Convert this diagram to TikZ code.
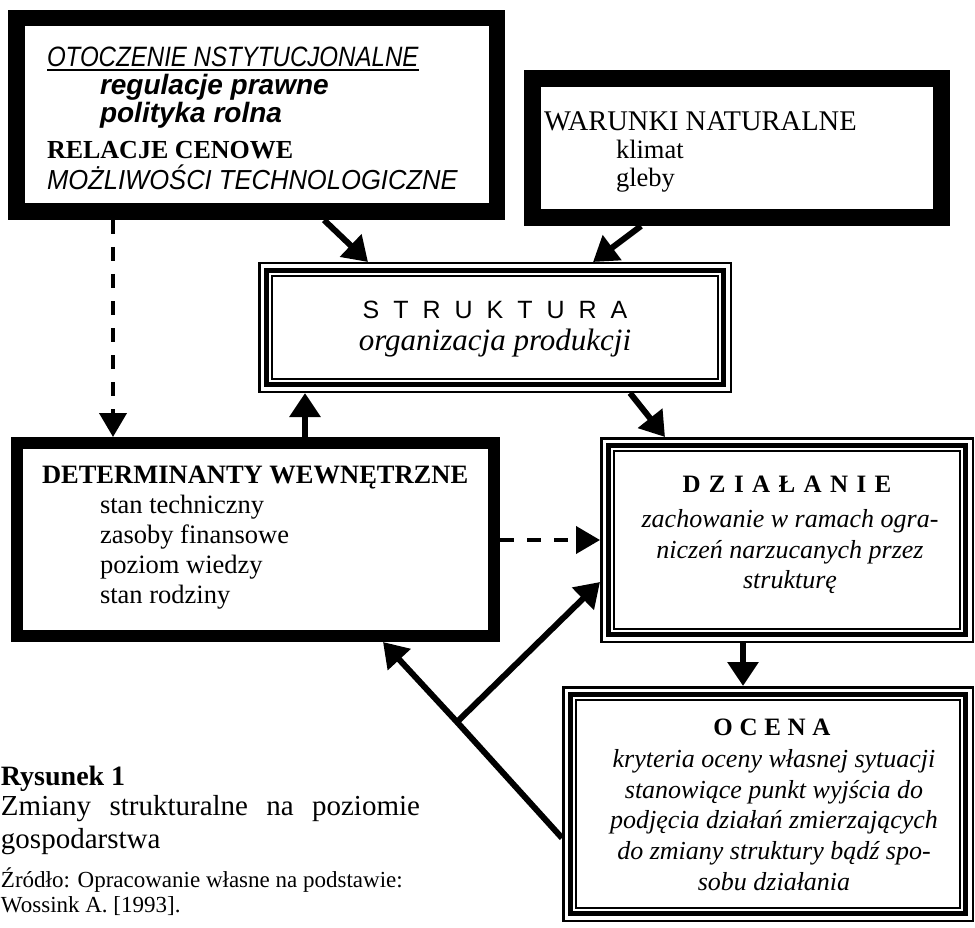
\documentclass[tikz,border=0pt]{standalone}
\usepackage{fontspec}
\setmainfont{Liberation Serif}
\setsansfont{Liberation Sans}
\usetikzlibrary{arrows.meta,calc}
\newdimen\lsp
\newcommand\gp{\kern\lsp}
\newcommand\fs[1]{\fontsize{#1}{#1}\selectfont}
\newcommand\thickframe[2]{\draw[line width=#2pt] ($(#1.north west)+(#2/2,#2/2)$) rectangle ($(#1.south east)-(#2/2,#2/2)$);}
\newcommand\tripleframe[1]{%
  \draw[line width=2.5pt] ($(#1.north west)+(1.25,1.25)$) rectangle ($(#1.south east)-(1.25,1.25)$);
  \draw[line width=5pt] ($(#1.north west)+(8.5,8.5)$) rectangle ($(#1.south east)-(8.5,8.5)$);
  \draw[line width=2pt] ($(#1.north west)+(14,14)$) rectangle ($(#1.south east)-(14,14)$);}
\begin{document}
\begin{tikzpicture}[x=1pt,y=-1pt,
  area/.style={inner sep=0pt,outer sep=0pt,anchor=north west},
  txt/.style={inner sep=0pt,outer sep=0pt,anchor=base west},
  ctxt/.style={inner sep=0pt,outer sep=0pt,anchor=base},
  solidarrow/.style={line width=6pt,-{Triangle[length=24pt,width=30pt]}},
  dasharrow/.style={line width=4pt,dash pattern=on 14pt off 13pt,-{Triangle[length=24pt,width=27pt]}}]
\fill[white] (0,0) rectangle (975,928);
\useasboundingbox (0,0) rectangle (975,928);

% box areas
\node[area,minimum width=497pt,minimum height=210pt] (env) at (8,10) {};
\node[area,minimum width=426pt,minimum height=156pt] (nat) at (524,70) {};
\node[area,minimum width=474pt,minimum height=131pt] (str) at (258,262) {};
\node[area,minimum width=489pt,minimum height=205pt] (det) at (11,437) {};
\node[area,minimum width=374pt,minimum height=206pt] (dzi) at (600,437) {};
\node[area,minimum width=412pt,minimum height=236pt] (oce) at (562,686) {};

\thickframe{env}{16.5}
\thickframe{nat}{17}
\thickframe{det}{12}
\tripleframe{str}
\tripleframe{dzi}
\tripleframe{oce}

% box 1
\node[txt,font=\sffamily\itshape\fs{28}\addfontfeatures{FakeStretch=0.86}] (t1) at (47,67) {OTOCZENIE NSTYTUCJONALNE};
\draw[line width=1.8pt] ($(t1.base west)+(0,3)$) -- ($(t1.base east)+(0,3)$);
\node[txt,font=\sffamily\bfseries\itshape\fs{28}] (t2) at (100,95) {regulacje prawne};
\node[txt,font=\sffamily\bfseries\itshape\fs{28}] (t3) at (100,123) {polityka rolna};
\node[txt,font=\bfseries\fs{26}] (t4) at (47,159) {RELACJE CENOWE};
\node[txt,font=\sffamily\itshape\fs{27.5}\addfontfeatures{FakeStretch=0.93}] (t5) at (47,190) {MOŻLIWOŚCI TECHNOLOGICZNE};

% box 2
\node[txt,font=\fs{28.5}] (n1) at (544,131) {WARUNKI NATURALNE};
\node[txt,font=\fs{26.5}] (n2) at (616,159) {klimat};
\node[txt,font=\fs{26.5}] (n3) at (616,187) {gleby};

% struktura
\node[ctxt,font=\sffamily\fs{25}] (s1) at (495,318) {\lsp=14pt S\gp T\gp R\gp U\gp K\gp T\gp U\gp R\gp A};
\node[ctxt,font=\itshape\fs{31}] (s2) at (495,350) {organizacja produkcji};

% determinanty
\node[txt,font=\bfseries\fs{26.5}] (d0) at (42,483) {DETERMINANTY WEWNĘTRZNE};
\node[txt,font=\fs{26.5}] (d1) at (100,513) {stan techniczny};
\node[txt,font=\fs{26.5}] (d2) at (100,543) {zasoby finansowe};
\node[txt,font=\fs{26.5}] (d3) at (100,573) {poziom wiedzy};
\node[txt,font=\fs{26.5}] (d4) at (100,603) {stan rodziny};

% dzialanie
\node[ctxt,font=\bfseries\fs{25}] (a0) at (787,492) {\lsp=8.4pt D\gp Z\gp I\gp A\gp Ł\gp A\gp N\gp I\gp E};
\node[ctxt,font=\itshape\fs{26}] (a1) at (790,527) {zachowanie w ramach ogra-};
\node[ctxt,font=\itshape\fs{26}] (a2) at (790,558) {niczeń narzucanych przez};
\node[ctxt,font=\itshape\fs{26}] (a3) at (790,588) {strukturę};

% ocena
\node[ctxt,font=\bfseries\fs{25}] (o0) at (772,735) {\lsp=6.7pt O\gp C\gp E\gp N\gp A};
\node[ctxt,font=\itshape\fs{26}] (o1) at (774,767) {kryteria oceny własnej sytuacji};
\node[ctxt,font=\itshape\fs{26}] (o2) at (774,798) {stanowiące punkt wyjścia do};
\node[ctxt,font=\itshape\fs{26}] (o3) at (774,828) {podjęcia działań zmierzających};
\node[ctxt,font=\itshape\fs{26}] (o4) at (774,859) {do zmiany struktury bądź spo-};
\node[ctxt,font=\itshape\fs{26}] (o5) at (774,890) {sobu działania};

% caption
\node[txt,font=\bfseries\fs{28}] (c1) at (1,785) {Rysunek 1};
\node[txt,font=\fs{29}] (c2) at (1,815) {\makebox[419pt][s]{Zmiany strukturalne na poziomie}};
\node[txt,font=\fs{29}] (c3) at (1,848) {gospodarstwa};
\node[txt,font=\fs{23}] (c4) at (1,887) {Źródło: Opracowanie własne na podstawie:};
\node[txt,font=\fs{23}] (c5) at (1,912) {Wossink A. [1993].};

% connectors
\draw[solidarrow] (324,0 |- env.south) -- (368,0 |- str.north);
\draw[solidarrow] (641,0 |- nat.south) -- (593,0 |- str.north);
\draw[dasharrow] (113,0 |- env.south) -- (113,0 |- det.north);
\draw[solidarrow] (305,0 |- det.north) -- (305,0 |- str.south);
\draw[solidarrow] (630,0 |- str.south) -- (665,0 |- dzi.north);
\draw[dasharrow] (det.east |- 0,540) -- (dzi.west |- 0,540);
\draw[solidarrow] (743,0 |- dzi.south) -- (743,0 |- oce.north);
\coordinate (split) at (457,722);
\draw[solidarrow] (oce.west |- 0,838) -- (split) -- (383,0 |- det.south);
\draw[solidarrow] (split) -- (dzi.west |- 0,582);
\end{tikzpicture}
\end{document}
